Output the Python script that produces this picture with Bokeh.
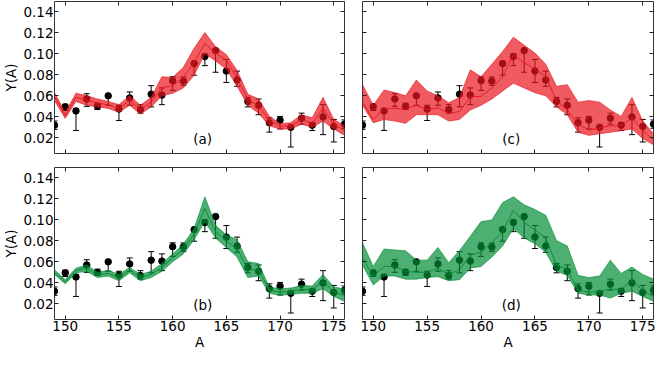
from bokeh.plotting import figure
from bokeh.layouts import column, row
from bokeh.models import (ColumnDataSource, Whisker, TeeHead, FixedTicker,
                          LinearAxis, Range1d)
from bokeh.core.properties import value
from bokeh.embed import file_html
from bokeh.resources import INLINE

# ---------------- data ----------------
A = list(range(149, 177))

exp_y = [0.032, 0.0495, 0.0456, 0.057, 0.050, 0.060, 0.0474, 0.058, 0.047, 0.0616,
         0.0607, 0.0745, 0.0742, 0.0908, 0.0975, 0.1032, 0.0836, 0.0751, 0.0546, 0.051,
         0.0344, 0.0368, 0.030, 0.0387, 0.032, 0.0399, 0.0308, 0.033]
exp_lo = [0.028, 0.046, 0.027, 0.050, 0.047, 0.051, 0.0365, 0.051, 0.0435, 0.0495,
          0.0516, 0.0652, 0.070, 0.0797, 0.0888, 0.0825, 0.0727, 0.0691, 0.0495, 0.042,
          0.0254, 0.0284, 0.0112, 0.033, 0.0269, 0.023, 0.016, 0.029]
exp_hi = [0.036, 0.052, 0.048, 0.062, 0.053, 0.0605, 0.051, 0.0637, 0.0516, 0.0697,
          0.0676, 0.0782, 0.078, 0.0917, 0.0999, 0.1035, 0.0947, 0.0836, 0.0585, 0.057,
          0.039, 0.0404, 0.0305, 0.0435, 0.0344, 0.0516, 0.0375, 0.037]

# panel (a): red, narrow band
a_up = [0.0631, 0.044, 0.0625, 0.0601, 0.057, 0.0547, 0.0516, 0.0601, 0.051, 0.0586,
        0.0782, 0.0776, 0.0872, 0.1053, 0.1204, 0.1069, 0.0993, 0.0842, 0.0616, 0.057,
        0.0405, 0.0335, 0.0344, 0.042, 0.039, 0.0586, 0.0375, 0.0314]
a_lo = [0.0556, 0.0385, 0.0547, 0.051, 0.0495, 0.048, 0.0444, 0.051, 0.0426, 0.0495,
        0.060, 0.0625, 0.0676, 0.0797, 0.1003, 0.0933, 0.0857, 0.0691, 0.051, 0.0435,
        0.0314, 0.0284, 0.0284, 0.033, 0.0299, 0.036, 0.0284, 0.0224]
a_mid = [0.0594, 0.0412, 0.0586, 0.0556, 0.0533, 0.0514, 0.048, 0.0556, 0.0468, 0.054,
         0.0676, 0.0697, 0.0774, 0.092, 0.1099, 0.1008, 0.0939, 0.0767, 0.0565, 0.0504,
         0.0366, 0.031, 0.0314, 0.0375, 0.0336, 0.048, 0.033, 0.027]

# panel (b): green, narrow band
b_up = [0.0525, 0.0429, 0.054, 0.057, 0.050, 0.052, 0.048, 0.0546, 0.048, 0.051,
        0.0585, 0.0676, 0.0767, 0.0917, 0.122, 0.0948, 0.0857, 0.081, 0.060, 0.0585,
        0.0359, 0.0344, 0.035, 0.0374, 0.037, 0.048, 0.036, 0.034]
b_lo = [0.048, 0.039, 0.0495, 0.051, 0.045, 0.0465, 0.042, 0.0495, 0.042, 0.045,
        0.051, 0.060, 0.0676, 0.0812, 0.0985, 0.0827, 0.0736, 0.0646, 0.045, 0.0465,
        0.030, 0.028, 0.029, 0.030, 0.030, 0.0344, 0.027, 0.0223]
b_mid = [0.050, 0.041, 0.052, 0.054, 0.0475, 0.049, 0.045, 0.052, 0.045, 0.048,
         0.0548, 0.0638, 0.072, 0.0865, 0.111, 0.0887, 0.0797, 0.0728, 0.0525, 0.0525,
         0.033, 0.031, 0.032, 0.0337, 0.0335, 0.0412, 0.0315, 0.028]

# panel (c): red, wide band
c_up = [0.0706, 0.051, 0.0655, 0.0631, 0.060, 0.0751, 0.0646, 0.060, 0.0534, 0.0585,
        0.0848, 0.0782, 0.0902, 0.1023, 0.1159, 0.1083, 0.1008, 0.0902, 0.0691, 0.0706,
        0.054, 0.0555, 0.054, 0.0465, 0.0404, 0.0585, 0.0359, 0.0238]
c_lo = [0.051, 0.0344, 0.0374, 0.036, 0.0338, 0.042, 0.042, 0.042, 0.036, 0.0374,
        0.0465, 0.051, 0.057, 0.0646, 0.0721, 0.0676, 0.063, 0.060, 0.0495, 0.042,
        0.0253, 0.0223, 0.0238, 0.0253, 0.0268, 0.0284, 0.0193, 0.0133]
c_mid = [0.054, 0.0374, 0.048, 0.048, 0.0474, 0.051, 0.047, 0.0486, 0.0434, 0.045,
         0.0594, 0.0594, 0.0676, 0.078, 0.0993, 0.0917, 0.0857, 0.078, 0.0555, 0.0465,
         0.0329, 0.0275, 0.0293, 0.0314, 0.0314, 0.039, 0.0269, 0.018]

# panel (d): green, wide band
d_up = [0.0782, 0.0556, 0.0722, 0.0713, 0.0707, 0.0616, 0.0616, 0.0737, 0.0592, 0.0707,
        0.0843, 0.0984, 0.0999, 0.1165, 0.122, 0.1144, 0.1099, 0.1045, 0.0803, 0.0752,
        0.0471, 0.045, 0.0465, 0.0616, 0.049, 0.055, 0.048, 0.0435]
d_lo = [0.0571, 0.038, 0.0465, 0.0465, 0.0435, 0.0435, 0.045, 0.0459, 0.042, 0.043,
        0.054, 0.0556, 0.0646, 0.0752, 0.0918, 0.0827, 0.0773, 0.0692, 0.051, 0.0471,
        0.030, 0.0284, 0.0284, 0.0254, 0.030, 0.032, 0.0269, 0.0224]
d_mid = [0.0631, 0.0465, 0.0556, 0.0556, 0.051, 0.050, 0.050, 0.054, 0.048, 0.0526,
         0.0662, 0.0692, 0.0782, 0.0888, 0.1093, 0.0978, 0.0903, 0.0827, 0.0571, 0.0526,
         0.033, 0.0309, 0.032, 0.0339, 0.0339, 0.042, 0.033, 0.027]

x_ticks = [150, 155, 160, 165, 170, 175]
x_tick_labels = ["150", "155", "160", "165", "170", "175"]
y_ticks = [0.02, 0.04, 0.06, 0.08, 0.10, 0.12, 0.14]
y_tick_labels = ["0.02", "0.04", "0.06", "0.08", "0.10", "0.12", "0.14"]

panel_labels = ["(a)", "(b)", "(c)", "(d)"]

RED = "#E8161E"
GREEN = "#028D36"
FONT = "DejaVu Sans"
FS = "13.5px"


def style_axis(ax, ticks, labels, show_labels):
    ax.ticker = FixedTicker(ticks=ticks)
    ax.major_tick_in = 4
    ax.major_tick_out = 0
    ax.minor_tick_line_color = None
    ax.axis_line_color = None
    ax.major_tick_line_color = "#222222"
    ax.major_label_text_font = FONT
    if show_labels:
        ax.major_label_overrides = {t: l for t, l in zip(ticks, labels)}
        ax.major_label_text_font_size = FS
        ax.major_label_text_color = "black"
        ax.major_label_standoff = 1
    else:
        ax.major_label_text_font_size = "0px"
        ax.major_label_text_color = None
        ax.major_label_standoff = 0


def make_panel(up, lo, mid, color, label, left, top):
    p = figure(frame_width=290 if left else 291, frame_height=152,
               x_range=Range1d(149, 176), y_range=Range1d(0.005, 0.15),
               output_backend="svg", toolbar_location=None,
               min_border_left=48 if left else 9,
               min_border_right=9 if left else 2,
               min_border_top=1 if top else 7,
               min_border_bottom=7 if top else 28,
               background_fill_color="white", border_fill_color="white")
    p.grid.visible = False
    p.outline_line_color = "#333333"
    p.outline_line_width = 1

    ax_below = p.below[0]
    ax_left = p.left[0]
    ax_above = LinearAxis()
    ax_right = LinearAxis()
    p.add_layout(ax_above, "above")
    p.add_layout(ax_right, "right")

    style_axis(ax_above, x_ticks, x_tick_labels, False)
    style_axis(ax_right, y_ticks, y_tick_labels, False)
    style_axis(ax_left, y_ticks, y_tick_labels, left)
    style_axis(ax_below, x_ticks, x_tick_labels, not top)

    if left:
        ax_left.axis_label = "Y(A)"
        ax_left.axis_label_text_font = FONT
        ax_left.axis_label_text_font_style = "normal"
        ax_left.axis_label_text_font_size = FS
        ax_left.axis_label_text_color = "black"
        ax_left.axis_label_standoff = 1
    if not top:
        ax_below.axis_label = "A"
        ax_below.axis_label_text_font = FONT
        ax_below.axis_label_text_font_style = "normal"
        ax_below.axis_label_text_font_size = FS
        ax_below.axis_label_text_color = "black"
        ax_below.axis_label_standoff = 0

    src = ColumnDataSource(dict(x=A, y=exp_y, lo=exp_lo, hi=exp_hi))
    w = Whisker(base="x", lower="lo", upper="hi", source=src, level="underlay",
                line_color="black", line_width=1,
                upper_head=TeeHead(size=6, line_color="black", line_width=1),
                lower_head=TeeHead(size=6, line_color="black", line_width=1))
    p.add_layout(w)
    p.scatter("x", "y", source=src, marker="circle", size=6.5,
              fill_color="black", line_color="black")

    p.varea(x=A, y1=lo, y2=up, fill_color=color, fill_alpha=0.7)
    p.line(A, up, line_color=color, line_alpha=0.8, line_width=0.8)
    p.line(A, lo, line_color=color, line_alpha=0.8, line_width=0.8)
    p.line(A, mid, line_color=color, line_alpha=0.9, line_width=1)

    p.text(x=[162.8], y=[0.019], text=[label], text_align="center",
           text_baseline="middle", text_font=value(FONT),
           text_font_size=FS, text_color="black")
    return p


pa = make_panel(a_up, a_lo, a_mid, RED, panel_labels[0], True, True)
pc = make_panel(c_up, c_lo, c_mid, RED, panel_labels[2], False, True)
pb = make_panel(b_up, b_lo, b_mid, GREEN, panel_labels[1], True, False)
pd = make_panel(d_up, d_lo, d_mid, GREEN, panel_labels[3], False, False)

layout = column(row(pa, pc), row(pb, pd))

open("out.html", "w").write(file_html(layout, INLINE))
